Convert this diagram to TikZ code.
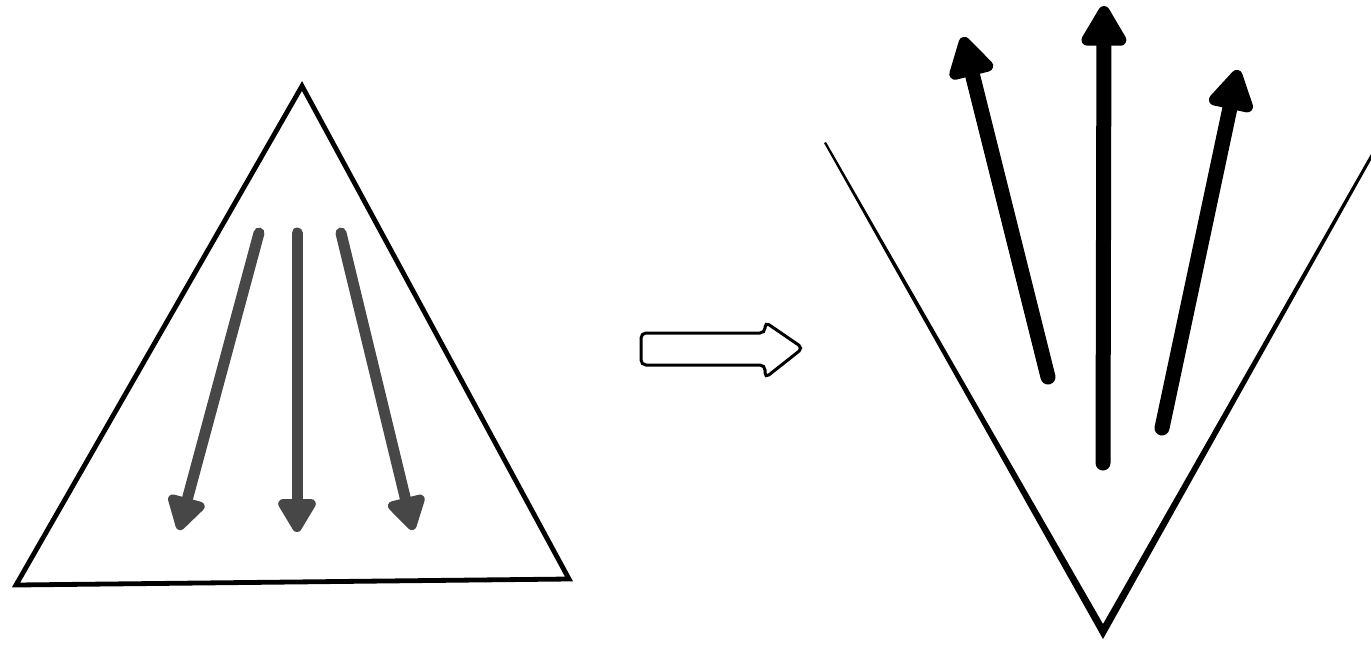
\documentclass[tikz,border=0pt]{standalone}
\usetikzlibrary{arrows.meta}
\definecolor{arrgray}{HTML}{474747}
\tikzset{
  tri/.style={line width=2.4pt, line join=miter},
  grayarr/.style={draw=arrgray, line width=5.5pt, line cap=round,
    -{Triangle[round, length=19pt, width=21pt]}},
  blackarr/.style={draw=black, line width=7.5pt, line cap=round,
    -{Triangle[round, length=23pt, width=25pt]}},
  hollow/.style={draw=black, line width=1.5pt, fill=white, rounded corners=2.5pt},
}
\begin{document}
\begin{tikzpicture}[x=0.5pt,y=-0.5pt]
\useasboundingbox (0,0) rectangle (1371,644);
% triangle
\coordinate (A) at (302,86);
\coordinate (B) at (16,585);
\coordinate (C) at (569,579);
\draw[tri] (A) -- (B) -- (C) -- cycle;
% gray arrows
\coordinate (g1s) at (259,233);
\coordinate (g1e) at (179,530);
\coordinate (g2s) at (297,233);
\coordinate (g2e) at (297,532);
\coordinate (g3s) at (341,233);
\coordinate (g3e) at (413,530);
\draw[grayarr] (g1s) -- (g1e);
\draw[grayarr] (g2s) -- (g2e);
\draw[grayarr] (g3s) -- (g3e);
% hollow arrow
\draw[hollow] (641,333) -- (765,333) -- (765,322) -- (803,348) -- (765,378) -- (765,365) -- (641,365) -- cycle;
% V shape
\fill (824,143) -- (1103,639) -- (1371,160) -- (1371,154) -- (1103,624) -- (826,142) -- cycle;
% black arrows
\coordinate (b1s) at (1048,377);
\coordinate (b1e) at (963,37);
\coordinate (b2s) at (1103,463);
\coordinate (b2e) at (1104,6);
\coordinate (b3s) at (1162,428);
\coordinate (b3e) at (1238,70);
\draw[blackarr] (b1s) -- (b1e);
\draw[blackarr] (b2s) -- (b2e);
\draw[blackarr] (b3s) -- (b3e);
\end{tikzpicture}
\end{document}
